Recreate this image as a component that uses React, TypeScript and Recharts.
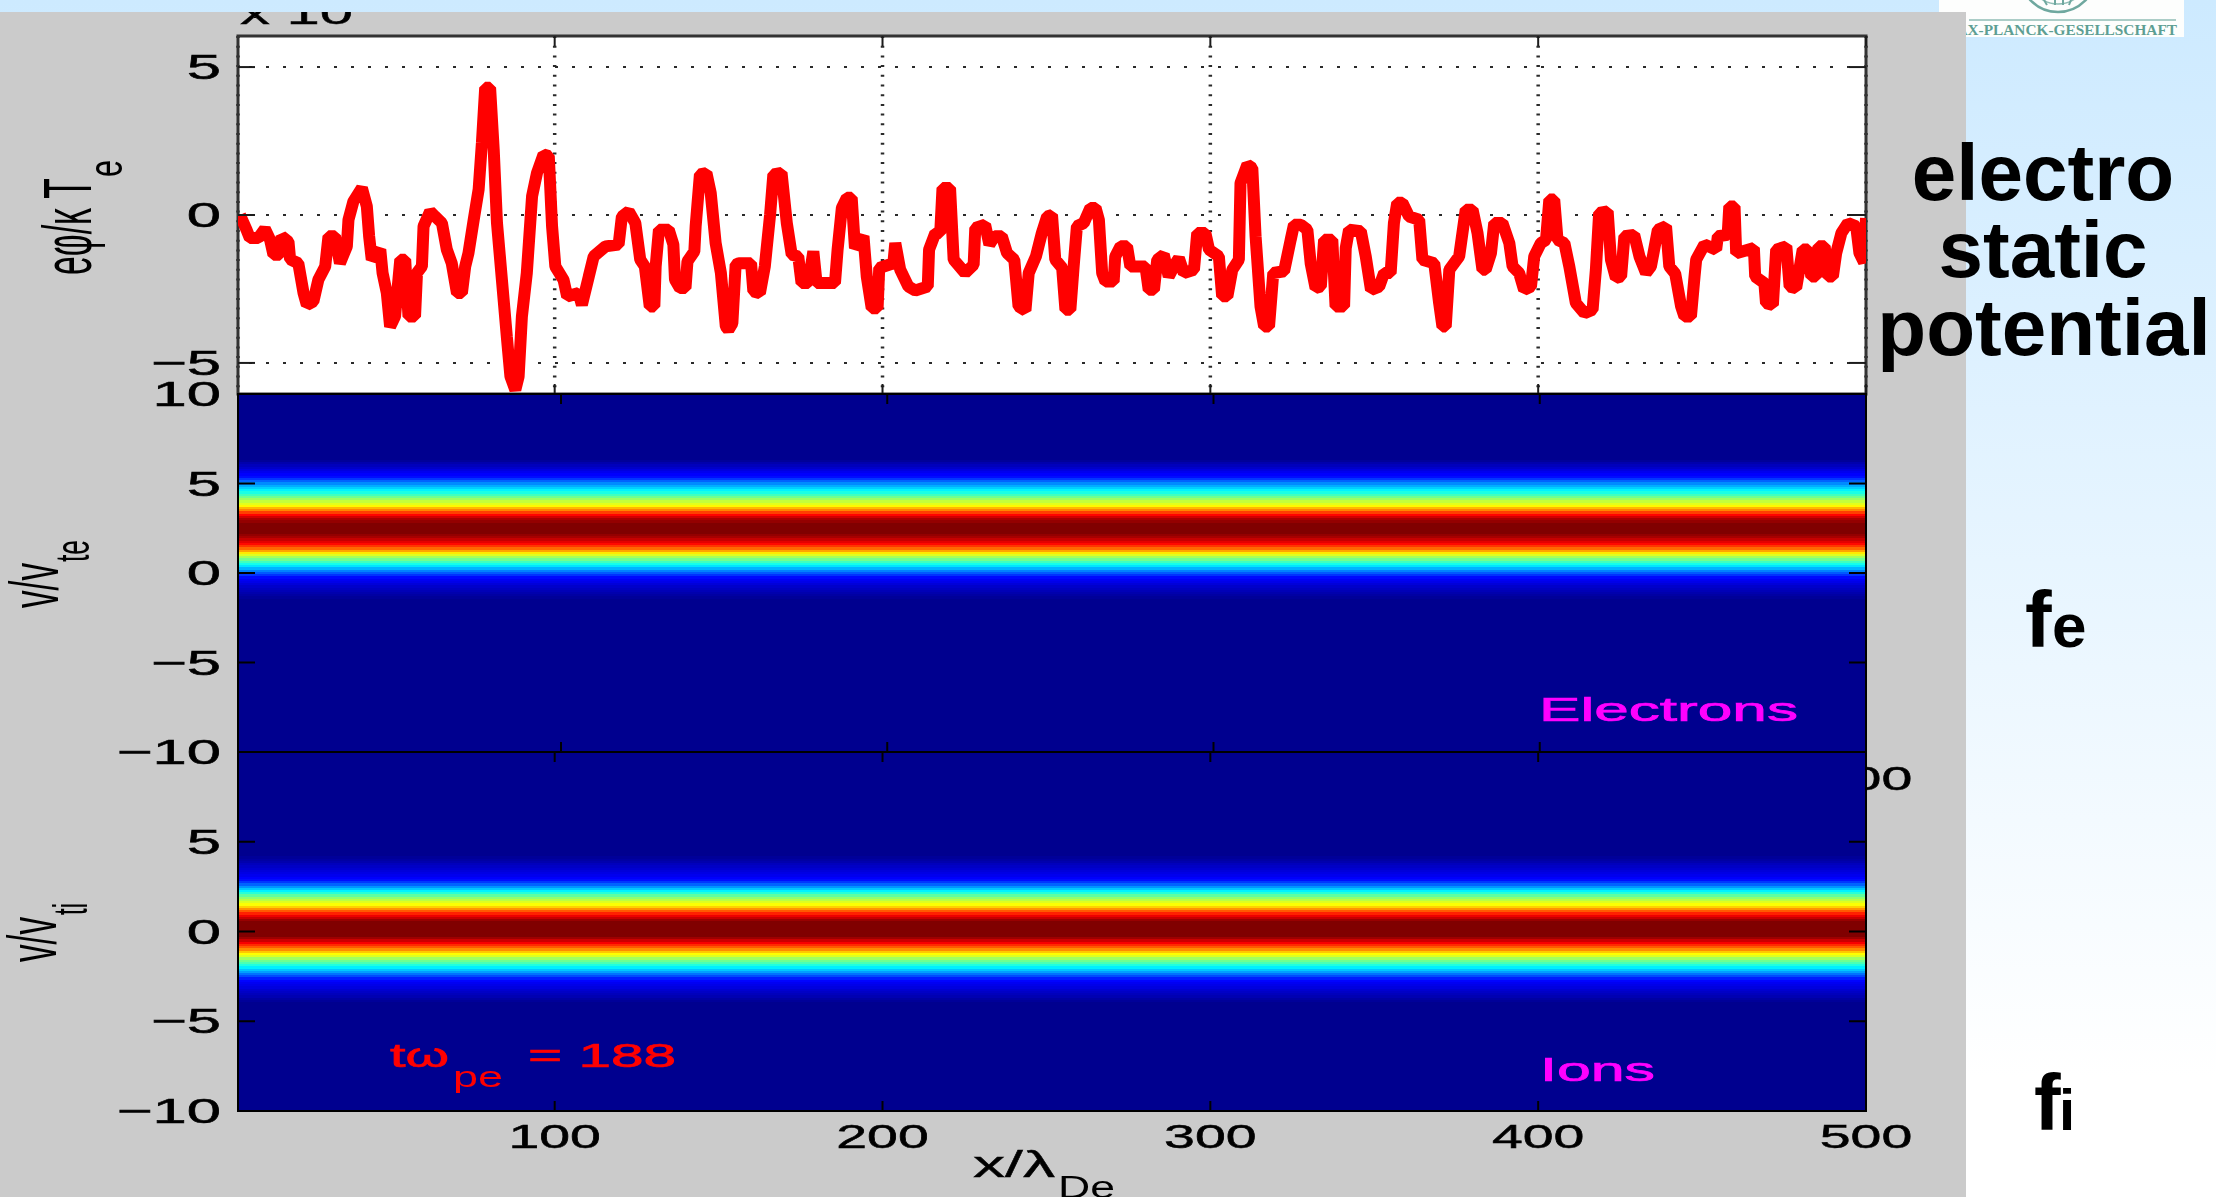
// App.tsx: potential and phase-space panels from a Vlasov simulation slide
import { ComposedChart, Line, XAxis, YAxis, CartesianGrid, ReferenceArea } from "recharts";

const xTicks = [100, 200, 300, 400, 500];
const phiTicks = [5, 0, -5];
const electronTicks = [10, 5, 0, -5, -10];
const ionTicks = [5, 0, -5, -10];

// potential trace (x / lambda_De, e phi / k Te in units of the 10^-x factor)
const phiX = [
  4, 6, 7, 9.6, 11.6, 13.2, 14.2, 16.2, 16.7, 18.8, 19.3, 21.8, 23.4, 24.4, 26.4, 27.9, 30, 31, 33, 34.5,
  36.6, 37.1, 38.6, 41.2, 42.7, 43.4, 44.2, 46.8, 47.5, 48.8, 49.8, 51.3, 52.9, 54.4, 55.4, 57.4, 58, 59.5, 60, 62,
  63.5, 65.6, 67.1, 68.6, 70.2, 71.7, 72.7, 73.7, 75.3, 76.8, 77.8, 78.8, 80.3, 81.4, 82.4, 83.9, 85.4, 86.5, 88, 89,
  90, 91.5, 93.1, 94.6, 96.6, 98.2, 99.2, 100.2, 102.7, 103.8, 107.3, 108.3, 110.4, 111.9, 115.5, 119.5, 120.5, 122.6, 124.6, 126.1,
  127.5, 129, 130.4, 130.8, 131.8, 134.8, 136.2, 136.7, 138.2, 139.9, 140.5, 142.6, 143, 144.3, 146.3, 147.6, 149.1, 150.7, 152.2, 153,
  154.2, 155.2, 156.2, 159.9, 160.6, 162.6, 164.1, 165.7, 166.7, 169.2, 170.8, 172.3, 174.3, 175.3, 177.4, 178.9, 179.9, 185.5, 186.3, 187.6,
  189.1, 190.6, 191.6, 194.2, 195.2, 196.7, 198.5, 199, 203.3, 203.9, 205.4, 207.9, 210, 213.8, 214.2, 216.1, 217.6, 218.3, 220.6, 221.7,
  225.2, 227.8, 228.3, 231.3, 232.6, 234.2, 236.4, 238, 240.2, 241.5, 243.6, 244.6, 246.8, 248.6, 250.2, 251.7, 252.7, 254.8, 255.8, 257.3,
  258.3, 259.3, 261.4, 263.4, 265, 266, 267, 268, 270.5, 271, 272.6, 274.6, 275.6, 280.2, 281.2, 282.8, 283.8, 285.8, 287.3, 289.4,
  290.4, 291.9, 295, 296, 298.5, 299.6, 302.6, 303.6, 305.2, 306.7, 308.7, 309.2, 311.3, 312.8, 313.8, 315.3, 316.4, 317.9, 319.2, 322.5,
  324.5, 325.5, 327.6, 329.6, 330.6, 332.1, 333.7, 334.7, 337.2, 338.2, 340.8, 341.3, 342.3, 345.9, 347.4, 349, 351.5, 353, 355, 356,
  357, 358.6, 360.6, 363.7, 364.7, 368.3, 369.8, 370.8, 371.8, 372.9, 375.9, 377.9, 380, 381.5, 383, 384, 385.6, 386.6, 389.1, 391.2,
  392.2, 394.2, 395.7, 397.8, 398.8, 400.8, 402.4, 403.4, 404.9, 405.9, 408, 409.5, 411.5, 414.1, 416.6, 417.6, 418.6, 421.2, 422.2, 423.7,
  425.3, 426.3, 429.3, 430.9, 432.9, 434.4, 436.5, 439, 440, 441.8, 443.6, 444.6, 446.6, 447.7, 448.2, 450.7, 454.3, 454.8, 457.8, 458.3,
  459.9, 460.4, 465.8, 466.2, 469, 469.5, 471.6, 472.6, 475.7, 476.7, 478.7, 480.7, 482.3, 483.3, 484.8, 485.5, 487.4, 488.4, 489.9, 490.9,
  492.5, 494.5, 497, 498, 499.4, 500,
];
const phiValues = [
  0, -0.5, -0.78, -0.78, -0.47, -0.84, -1.34, -1.34, -0.72, -0.9, -1.5, -1.63, -2.64, -3.04, -2.92, -2.19, -1.74, -0.72, -0.72, -1.63,
  -1.06, -0.16, 0.46, 0.91, 0.29, -0.72, -1.51, -1.17, -1.96, -2.64, -3.77, -3.43, -1.51, -1.51, -3.43, -3.43, -1.96, -1.74, -0.38, 0.12,
  -0.05, -0.27, -1.17, -1.63, -2.64, -2.64, -1.74, -1.29, -0.16, 0.86, 2.44, 4.3, 4.3, 2.21, -0.27, -2.19, -4.11, -5.46, -5.91, -5.46,
  -3.43, -1.96, 0.63, 1.42, 2.04, 1.99, -0.38, -1.74, -2.19, -2.75, -2.64, -3.04, -2.08, -1.4, -1.06, -1.0, -0.05, 0.12, -0.27, -1.51,
  -1.74, -3.09, -3.09, -1.74, -0.5, -0.5, -1.0, -2.19, -2.47, -2.47, -1.57, -1.23, -0.38, 1.37, 1.42, 0.74, -0.95, -1.96, -3.77, -3.88,
  -3.66, -1.68, -1.63, -1.63, -2.58, -2.64, -1.74, 0, 1.37, 1.42, -0.27, -1.34, -1.4, -2.3, -2.3, -1.23, -2.3, -2.3, -1.17, 0.24,
  0.58, 0.58, -1.12, -0.72, -2.08, -3.15, -3.15, -1.79, -1.63, -0.95, -1.85, -2.42, -2.55, -2.42, -1.17, -0.61, -0.61, 0.91, 0.91, -1.51,
  -1.96, -1.68, -0.44, -0.33, -1, -0.72, -0.72, -1.29, -1.51, -3.09, -3.23, -1.96, -1.4, -0.61, -0.05, 0, -1.51, -1.79, -3.2, -3.2,
  -1.74, -0.38, -0.27, 0.24, 0.24, -0.16, -1.96, -2.25, -2.25, -1.4, -1.06, -1.06, -1.74, -1.74, -2.53, -2.53, -1.51, -1.34, -2.08, -1.63,
  -1.46, -1.96, -1.85, -0.61, -0.61, -1.17, -1.4, -2.75, -2.75, -1.85, -1.51, 1.08, 1.7, 1.59, -0.72, -3.09, -3.77, -3.77, -1.96, -1.9,
  -0.84, -0.33, -0.33, -0.5, -1.63, -2.47, -2.42, -0.84, -0.84, -3.09, -3.09, -1.12, -0.5, -0.55, -1.4, -2.53, -2.42, -1.96, -1.96, -0.27,
  0.41, 0.41, -0.05, -0.16, -1.51, -1.63, -2.98, -3.77, -3.77, -1.85, -1.4, 0.18, 0.18, -0.61, -1.85, -1.85, -1.29, -0.27, -0.27, -0.95,
  -1.74, -1.96, -2.53, -2.42, -1.4, -0.95, -0.84, 0.52, 0.52, -0.84, -0.95, -1.74, -2.98, -3.32, -3.2, -1.85, 0.07, 0.12, -1.51, -2.13,
  -2.08, -0.72, -0.67, -1.4, -1.96, -1.74, -0.5, -0.38, -1.74, -1.98, -3.09, -3.43, -3.43, -2.08, -1.51, -1, -1.17, -0.72, -0.67, 0.29,
  0.29, -1.29, -1.12, -2.08, -2.3, -2.98, -3.04, -1.17, -1.06, -2.42, -2.47, -1.17, -1.17, -2.08, -2.08, -1.06, -1.06, -2.08, -2.08, -1.29,
  -0.61, -0.27, -0.38, -1.29, -1.6, -0.1,
];

// velocity rows and their colour-scale level (0 navy ... 1 dark red)
const electronV = [
  6.5, 6.375, 6.25, 6.125, 6, 5.875, 5.75, 5.625, 5.5, 5.375, 5.25, 5.125, 5, 4.875, 4.75, 4.625, 4.5, 4.375, 4.25, 4.125,
  4, 3.875, 3.75, 3.625, 3.5, 3.375, 3.25, 3.125, 3, 2.875, 2.75, 2.625, 2.5, 2.375, 2.25, 2.125, 2, 1.875, 1.75, 1.625,
  1.5, 1.375, 1.25, 1.125, 1, 0.875, 0.75, 0.625, 0.5, 0.375, 0.25, 0.125, 0, -0.125, -0.25, -0.375, -0.5, -0.625, -0.75, -0.875,
  -1, -1.125, -1.25, -1.375, -1.5,
];
const electronLevel = [
  0, 0, 0.01, 0.03, 0.045, 0.06, 0.08, 0.095, 0.11, 0.125, 0.165, 0.21, 0.25, 0.285, 0.32, 0.355, 0.39, 0.43, 0.475, 0.52,
  0.56, 0.59, 0.625, 0.69, 0.74, 0.81, 0.87, 0.92, 0.96, 0.98, 1, 1, 1, 1, 1, 0.98, 0.96, 0.93, 0.9, 0.865,
  0.82, 0.77, 0.71, 0.64, 0.585, 0.53, 0.48, 0.43, 0.385, 0.34, 0.29, 0.24, 0.2, 0.16, 0.12, 0.1, 0.09, 0.075, 0.06, 0.05,
  0.04, 0.03, 0.02, 0.01, 0,
];
const ionV = [
  4.25, 4.125, 4, 3.875, 3.75, 3.625, 3.5, 3.375, 3.25, 3.125, 3, 2.875, 2.75, 2.625, 2.5, 2.375, 2.25, 2.125, 2, 1.875,
  1.75, 1.625, 1.5, 1.375, 1.25, 1.125, 1, 0.875, 0.75, 0.625, 0.5, 0.375, 0.25, 0.125, 0, -0.125, -0.25, -0.375, -0.5, -0.625,
  -0.75, -0.875, -1, -1.125, -1.25, -1.375, -1.5, -1.625, -1.75, -1.875, -2, -2.125, -2.25, -2.375, -2.5, -2.625, -2.75, -2.875, -3, -3.125,
  -3.25, -3.375, -3.5, -3.625, -3.75, -3.875, -4,
];
const ionLevel = [
  0, 0.01, 0.02, 0.03, 0.045, 0.055, 0.065, 0.075, 0.085, 0.095, 0.11, 0.125, 0.165, 0.21, 0.26, 0.31, 0.355, 0.405, 0.46, 0.51,
  0.55, 0.585, 0.615, 0.665, 0.725, 0.785, 0.84, 0.89, 0.93, 0.975, 1, 1, 1, 1, 1, 1, 1, 0.97, 0.925, 0.88,
  0.83, 0.785, 0.735, 0.675, 0.62, 0.585, 0.525, 0.475, 0.44, 0.395, 0.35, 0.31, 0.27, 0.225, 0.185, 0.14, 0.115, 0.1, 0.09, 0.08,
  0.065, 0.055, 0.045, 0.035, 0.02, 0.01, 0,
];

const phiData = phiX.map((x, i) => ({ x, phi: phiValues[i] }));

const FONT = "'Liberation Sans', Arial, sans-serif";
const DARK = "#1c1c1c";

function jet(level: number) {
  const t = 0.015 + level * 0.985;
  const ch = (v: number) => Math.round(255 * Math.min(1, Math.max(0, v)));
  return `rgb(${ch(1.5 - Math.abs(4 * t - 3))},${ch(1.5 - Math.abs(4 * t - 2))},${ch(1.5 - Math.abs(4 * t - 1))})`;
}

// matlab-style tick: inward mark, label stretched like the screenshot
const makeYTick = (side: "left" | "right", labels: boolean, color = DARK) => (props: any) => {
  const { x, y, payload } = props;
  const dir = side === "left" ? 1 : -1;
  return (
    <g>
      <line x1={x} y1={y} x2={x + dir * 17} y2={y} stroke={color} strokeWidth={2} />
      {labels && (
        <text
          transform={`translate(221,${y + 12}) scale(1.76,1)`}
          textAnchor="end"
          fontSize={35}
          fontFamily={FONT}
          fill="#000"
          stroke="#000"
          strokeWidth={0.5}
        >
          {payload.value < 0 ? `\u2212${-payload.value}` : payload.value}
        </text>
      )}
    </g>
  );
};

const makeXTick = (side: "bottom" | "top", labelY: number | null, color = DARK) => (props: any) => {
  const { x, y, payload } = props;
  const dir = side === "bottom" ? -1 : 1;
  return (
    <g>
      <line x1={x} y1={y} x2={x} y2={y + dir * 10} stroke={color} strokeWidth={2} />
      {labelY !== null && (
        <text
          transform={`translate(${x},${labelY}) scale(1.68,1)`}
          textAnchor="middle"
          fontSize={33}
          fontFamily={FONT}
          fill="#000"
          stroke="#000"
          strokeWidth={0.5}
        >
          {payload.value}
        </text>
      )}
    </g>
  );
};

function Layer({ children }: { children: any }) {
  return <div style={{ position: "absolute", left: 0, top: -12 }}>{children}</div>;
}

const heatRows = (rows: number[], levels: number[], xMin: number) =>
  rows.map((v, i) => (
    <ReferenceArea
      key={v}
      x1={xMin}
      x2={500}
      y1={v + 0.0625}
      y2={v - 0.0625}
      fill={jet(levels[i])}
      fillOpacity={1}
      stroke="none"
      shapeRendering="crispEdges"
    />
  ));

const bareAxis = { height: 1, axisLine: false, tickLine: false, tickSize: 0, tickMargin: 0, interval: 0, allowDataOverflow: true } as const;
const bareYAxis = { width: 1, axisLine: false, tickLine: false, tickSize: 0, tickMargin: 0, interval: 0, allowDataOverflow: true } as const;

function PhiPanel() {
  return (
    <ComposedChart width={1966} height={1197} data={phiData} margin={{ top: 35, right: 99, bottom: 802, left: 237 }}>
      <CartesianGrid vertical={false} fill="#fff" fillOpacity={1} stroke="#2a2a2a" strokeWidth={2} strokeDasharray="3 14" strokeDashoffset={-28} />
      <CartesianGrid horizontal={false} stroke="#2a2a2a" strokeWidth={3.5} strokeDasharray="2 7.7" />
      <Line dataKey="phi" stroke="#ff0000" strokeWidth={12} dot={false} isAnimationActive={false} strokeLinejoin="bevel" />
      <ReferenceArea x1={3.4} x2={500} y1={-6.05} y2={6.05} fill="none" stroke="#333" strokeWidth={3} />
      <XAxis type="number" dataKey="x" domain={[3.4, 500]} ticks={xTicks} tick={makeXTick("bottom", null)} {...bareAxis} />
      <XAxis type="number" xAxisId="top" orientation="top" dataKey="x" domain={[3.4, 500]} ticks={xTicks} tick={makeXTick("top", null)} {...bareAxis} />
      <YAxis type="number" domain={[-6.05, 6.05]} ticks={phiTicks} tick={makeYTick("left", true)} {...bareYAxis} />
      <YAxis type="number" yAxisId="right" orientation="right" domain={[-6.05, 6.05]} ticks={phiTicks} tick={makeYTick("right", false)} {...bareYAxis} />
    </ComposedChart>
  );
}

function ElectronPanel() {
  return (
    <ComposedChart width={1966} height={1197} margin={{ top: 393, right: 99, bottom: 444, left: 237 }}>
      <ReferenceArea x1={1} x2={500} y1={-10} y2={10} fill={jet(0)} fillOpacity={1} stroke="none" />
      {heatRows(electronV, electronLevel, 1)}
      <ReferenceArea x1={1} x2={500} y1={-10} y2={10} fill="none" stroke="#000" strokeWidth={2} />
      <XAxis type="number" dataKey="x" domain={[1, 500]} ticks={xTicks} tick={makeXTick("bottom", 790, "#000")} {...bareAxis} />
      <XAxis type="number" xAxisId="top" orientation="top" dataKey="x" domain={[1, 500]} ticks={xTicks} tick={makeXTick("top", null, "#000")} {...bareAxis} />
      <YAxis type="number" domain={[-10, 10]} ticks={electronTicks} tick={makeYTick("left", true, "#000")} {...bareYAxis} />
      <YAxis type="number" yAxisId="right" orientation="right" domain={[-10, 10]} ticks={electronTicks} tick={makeYTick("right", false, "#000")} {...bareYAxis} />
    </ComposedChart>
  );
}

function IonPanel() {
  return (
    <ComposedChart width={1966} height={1197} margin={{ top: 751, right: 99, bottom: 85, left: 237 }}>
      <ReferenceArea x1={3.4} x2={500} y1={-10} y2={10} fill={jet(0)} fillOpacity={1} stroke="none" />
      {heatRows(ionV, ionLevel, 3.4)}
      <ReferenceArea x1={3.4} x2={500} y1={-10} y2={10} fill="none" stroke="#000" strokeWidth={2} />
      <XAxis type="number" dataKey="x" domain={[3.4, 500]} ticks={xTicks} tick={makeXTick("bottom", 1148, "#000")} {...bareAxis} />
      <XAxis type="number" xAxisId="top" orientation="top" dataKey="x" domain={[3.4, 500]} ticks={xTicks} tick={makeXTick("top", null, "#000")} {...bareAxis} />
      <YAxis type="number" domain={[-10, 10]} ticks={ionTicks} tick={makeYTick("left", true, "#000")} {...bareYAxis} />
      <YAxis type="number" yAxisId="right" orientation="right" domain={[-10, 10]} ticks={ionTicks} tick={makeYTick("right", false, "#000")} {...bareYAxis} />
    </ComposedChart>
  );
}

// rotated axis title: stretched across the text direction like the source image
function RotLabel({ main, sub, baseX, startY, mainLen, subStart, subLen, subX, size, subSize, cross }: any) {
  return (
    <g fontFamily={FONT} fill="#000">
      <text transform={`translate(${baseX},${startY}) rotate(-90) scale(1,${cross})`} fontSize={size} textLength={mainLen} lengthAdjust="spacingAndGlyphs">
        {main}
      </text>
      <text transform={`translate(${subX},${subStart}) rotate(-90) scale(1,${cross})`} fontSize={subSize} textLength={subLen} lengthAdjust="spacingAndGlyphs">
        {sub}
      </text>
    </g>
  );
}

function PlotText() {
  const bold = { stroke: "currentColor", strokeWidth: 0.7 };
  return (
    <svg width={1966} height={1197} style={{ position: "absolute", left: 0, top: -12 }} fontFamily={FONT}>
      <text x={240} y={24} fontSize={34} textLength={113} lengthAdjust="spacingAndGlyphs" fill="#000" stroke="#000" strokeWidth={0.4}>x 10</text>
      <RotLabel main={"e\u03C6/\u03BA T"} sub="e" baseX={91} startY={275} mainLen={97} subStart={177} subLen={17} subX={122} size={31} subSize={22} cross={2.2} />
      <RotLabel main="v/v" sub="te" baseX={58} startY={608} mainLen={45} subStart={562} subLen={22} subX={89} size={34} subSize={24} cross={2} />
      <RotLabel main="v/v" sub="ti" baseX={56} startY={962} mainLen={45} subStart={915} subLen={12} subX={87} size={34} subSize={24} cross={2} />
      <text x={973} y={1177} fontSize={36} textLength={82} lengthAdjust="spacingAndGlyphs" fill="#000" stroke="#000" strokeWidth={0.4}>{"x/\u03BB"}</text>
      <text x={1058} y={1198} fontSize={31} textLength={57} lengthAdjust="spacingAndGlyphs" fill="#000">De</text>
      <g color="#ff00ff" fill="#ff00ff" {...bold}>
        <text x={1539} y={721} fontSize={34} textLength={259} lengthAdjust="spacingAndGlyphs">Electrons</text>
        <text x={1540} y={1081} fontSize={34} textLength={115} lengthAdjust="spacingAndGlyphs">Ions</text>
      </g>
      <g color="#ff0000" fill="#ff0000" {...bold}>
        <text x={390} y={1067} fontSize={33} textLength={59} lengthAdjust="spacingAndGlyphs">{"t\u03C9"}</text>
        <text x={453} y={1087} fontSize={30} textLength={50} lengthAdjust="spacingAndGlyphs" strokeWidth={0}>pe</text>
        <text x={528} y={1067} fontSize={33} textLength={148} lengthAdjust="spacingAndGlyphs">= 188</text>
      </g>
    </svg>
  );
}

function SlideText() {
  return (
    <svg width={2216} height={1197} style={{ position: "absolute", left: 0, top: 0 }} fontFamily={FONT} fontWeight={700} fill="#000">
      <text x={2043} y={200} fontSize={80} textAnchor="middle">electro</text>
      <text x={2043} y={277} fontSize={80} textAnchor="middle">static</text>
      <text x={2044} y={355} fontSize={80} textAnchor="middle">potential</text>
      <text x={2025} y={647} fontSize={80}>f</text>
      <text x={2052} y={647} fontSize={62}>e</text>
      <text x={2034} y={1130} fontSize={80}>f</text>
      <text x={2059} y={1130} fontSize={58}>i</text>
    </svg>
  );
}

function Logo() {
  return (
    <svg width={245} height={37} style={{ position: "absolute", left: 1939, top: 0, background: "#fdfefd" }}>
      <circle cx={119} cy={-26} r={38} fill="none" stroke="#6fa89f" strokeWidth={2.5} />
      <circle cx={119} cy={-26} r={30} fill="none" stroke="#8fbdb5" strokeWidth={1.5} />
      <path d="M105 0 L108 5 M116 0 L116 5 M124 0 L124 5 M132 0 L130 5" stroke="#6fa89f" strokeWidth={2} />
      <line x1={30} y1={20} x2={237} y2={20} stroke="#8fbdb5" strokeWidth={1.5} />
      <text x={238} y={35} textAnchor="end" textLength={235} lengthAdjust="spacingAndGlyphs" fontSize={14} fontWeight={700} fontFamily="'Liberation Serif', serif" fill="#5d9e93">
        MAX-PLANCK-GESELLSCHAFT
      </text>
    </svg>
  );
}

export default function App() {
  return (
    <div
      style={{
        position: "absolute",
        left: 0,
        top: 0,
        width: 2216,
        height: 1197,
        overflow: "hidden",
        background: "linear-gradient(180deg, #cdeaff 0%, #ffffff 90%)",
      }}
    >
      <Logo />
      <div style={{ position: "absolute", left: 0, top: 12, width: 1966, height: 1185, overflow: "hidden", background: "#cbcbcb" }}>
        <div style={{ position: "absolute", inset: 0, filter: "blur(0.6px)" }}>
          <Layer><PhiPanel /></Layer>
          <Layer><ElectronPanel /></Layer>
          <Layer><IonPanel /></Layer>
          <PlotText />
        </div>
      </div>
      <SlideText />
    </div>
  );
}
